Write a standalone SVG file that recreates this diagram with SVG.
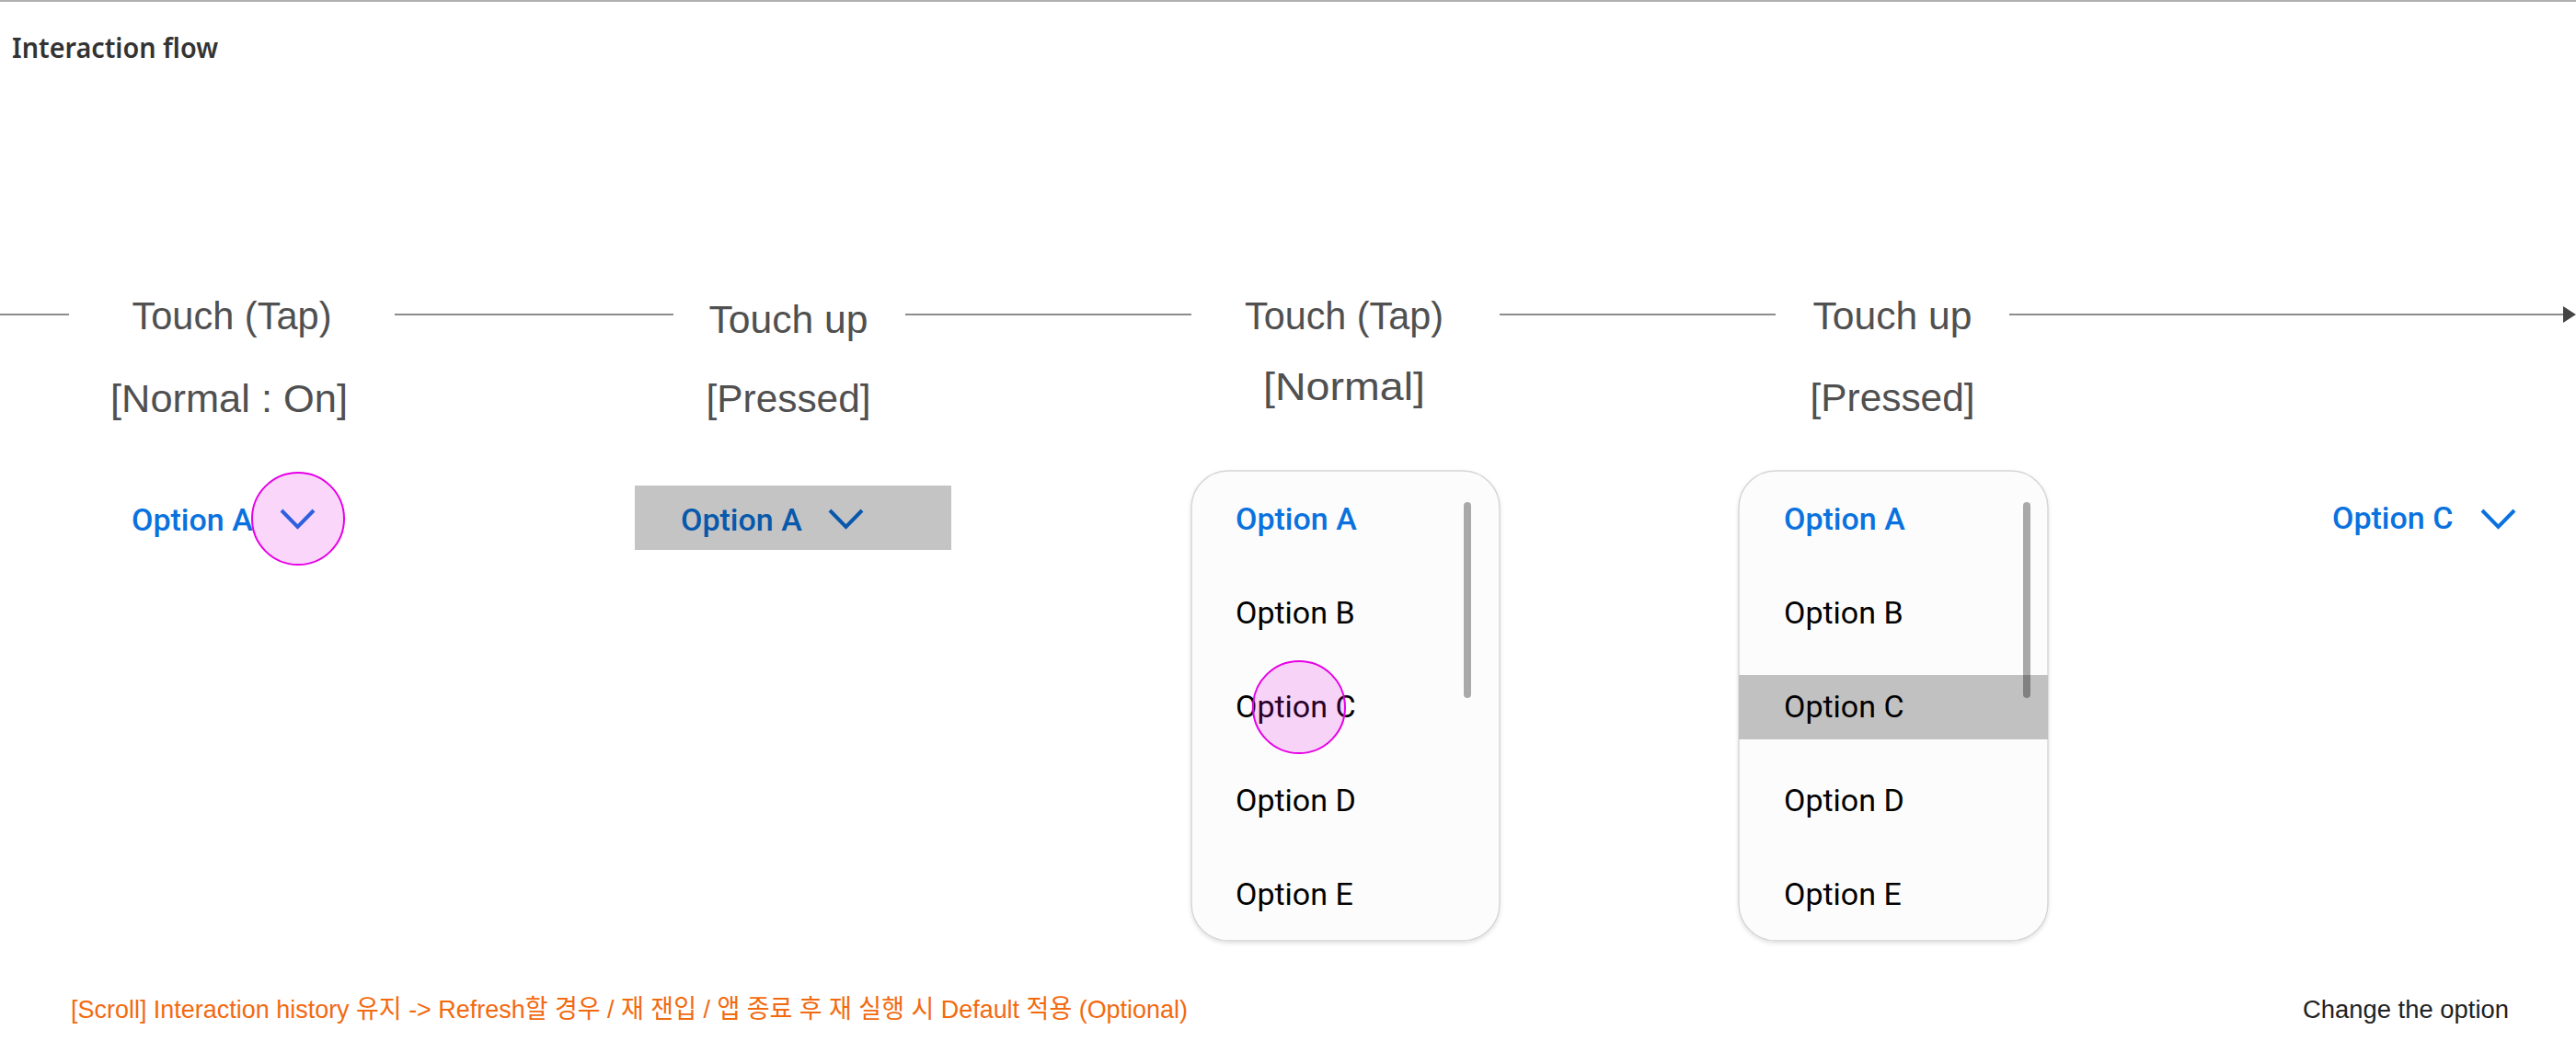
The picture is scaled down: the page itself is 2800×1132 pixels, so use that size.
<svg xmlns="http://www.w3.org/2000/svg" width="2800" height="1132" viewBox="0 0 2800 1132">
<style>
.step{font-family:"Liberation Sans","Noto Sans",sans-serif;font-size:43px;fill:#505050;text-anchor:middle}
.opt{font-family:Roboto,"Liberation Sans",sans-serif;font-size:34px}
.sel{font-weight:500;fill:#0a72de}
.itm{font-weight:400;fill:#000}
.chev{fill:none;stroke:#0a72de;stroke-width:4}
.conn{stroke:#8c8c8c;stroke-width:2;fill:none}
.touch{fill:#e600e6;fill-opacity:0.16;stroke:#e600e6;stroke-width:2}
.box{fill:#fcfcfc;stroke:#d6d6d6;stroke-width:1.5}
.scroll{fill:#000;fill-opacity:0.33}
</style>
<defs>
<marker id="arr" markerWidth="14" markerHeight="18" refX="0" refY="9" orient="auto" markerUnits="userSpaceOnUse">
<path d="M0,0 L14,9 L0,18 Z" fill="#444"/>
</marker>
<filter id="sh" x="-10%" y="-10%" width="120%" height="120%">
<feDropShadow dx="0" dy="2" stdDeviation="2" flood-color="#000" flood-opacity="0.12"/>
</filter>
</defs>
<rect x="0" y="0" width="2800" height="2" fill="#b0b0b0"/>
<text x="13" y="63" font-family="'Noto Sans','Liberation Sans',sans-serif" font-size="30" font-weight="600" fill="#333" textLength="224" lengthAdjust="spacingAndGlyphs">Interaction flow</text>

<g id="connectors">
<line class="conn" x1="0" y1="342" x2="75" y2="342"/>
<line class="conn" x1="429" y1="342" x2="732" y2="342"/>
<line class="conn" x1="984" y1="342" x2="1295" y2="342"/>
<line class="conn" x1="1630" y1="342" x2="1930" y2="342"/>
<line class="conn" x1="2184" y1="342" x2="2786" y2="342" marker-end="url(#arr)"/>
</g>

<g id="step1">
<text class="step" x="252" y="358" textLength="217" lengthAdjust="spacingAndGlyphs">Touch (Tap)</text>
<text class="step" x="249" y="448" textLength="258" lengthAdjust="spacingAndGlyphs">[Normal : On]</text>
<text class="opt sel" x="143" y="577">Option A</text>
<polyline class="chev" points="306,555 323.5,573 341,555"/>
<circle class="touch" cx="324" cy="564" r="50"/>
</g>

<g id="step2">
<text class="step" x="857" y="362" textLength="173" lengthAdjust="spacingAndGlyphs">Touch up</text>
<text class="step" x="857" y="448" textLength="179" lengthAdjust="spacingAndGlyphs">[Pressed]</text>
<rect x="690" y="528" width="344" height="70" fill="#c4c4c4"/>
<text class="opt" x="740" y="577" font-weight="500" fill="#0858ab">Option A</text>
<polyline points="902,555 919.5,573 937,555" fill="none" stroke="#0858ab" stroke-width="4"/>
</g>

<g id="step3">
<text class="step" x="1461" y="358" textLength="216" lengthAdjust="spacingAndGlyphs">Touch (Tap)</text>
<text class="step" x="1461" y="435" textLength="176" lengthAdjust="spacingAndGlyphs">[Normal]</text>
<rect class="box" x="1295" y="512" width="335" height="511" rx="40" filter="url(#sh)"/>
<text class="opt sel" x="1343" y="576">Option A</text>
<text class="opt itm" x="1343" y="678">Option B</text>
<text class="opt itm" x="1343" y="780">Option C</text>
<text class="opt itm" x="1343" y="882">Option D</text>
<text class="opt itm" x="1343" y="984">Option E</text>
<rect class="scroll" x="1591" y="546" width="8" height="213" rx="4"/>
<circle class="touch" cx="1412" cy="769" r="50"/>
</g>

<g id="step4">
<text class="step" x="2057" y="358" textLength="173" lengthAdjust="spacingAndGlyphs">Touch up</text>
<text class="step" x="2057" y="447" textLength="179" lengthAdjust="spacingAndGlyphs">[Pressed]</text>
<rect class="box" x="1890" y="512" width="336" height="511" rx="40" filter="url(#sh)"/>
<rect x="1890" y="734" width="336" height="70" fill="#c1c1c1"/>
<text class="opt sel" x="1939" y="576">Option A</text>
<text class="opt itm" x="1939" y="678">Option B</text>
<text class="opt itm" x="1939" y="780">Option C</text>
<text class="opt itm" x="1939" y="882">Option D</text>
<text class="opt itm" x="1939" y="984">Option E</text>
<rect class="scroll" x="2199" y="546" width="8" height="213" rx="4"/>
</g>

<g id="step5">
<text class="opt sel" x="2535" y="575">Option C</text>
<polyline class="chev" points="2698,555 2715.5,573 2733,555"/>
<text x="2503" y="1107" font-family="'Liberation Sans',sans-serif" font-size="27" fill="#222" textLength="224" lengthAdjust="spacingAndGlyphs">Change the option</text>
</g>

<g id="note">
<text x="77" y="1107" font-family="'Liberation Sans','Noto Sans CJK KR',sans-serif" font-size="28" fill="#f26a10" textLength="1214" lengthAdjust="spacingAndGlyphs">[Scroll] Interaction history 유지 -&gt; Refresh할 경우 / 재 잰입 / 앱 종료 후 재 실행 시 Default 적용 (Optional)</text>
</g>
</svg>
